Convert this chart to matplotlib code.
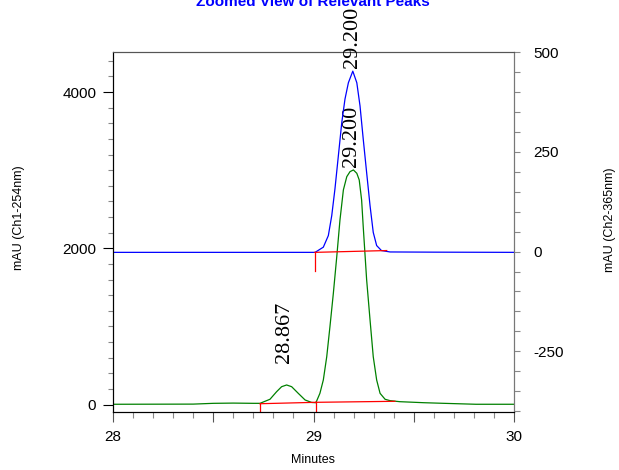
import matplotlib
matplotlib.use("Agg")
import matplotlib.pyplot as plt
from matplotlib.ticker import MultipleLocator

# Ch1 (254nm) trace, green, left axis
ch1_time = [28.0, 28.4, 28.5, 28.6, 28.7, 28.733, 28.783, 28.816, 28.841, 28.866,
            28.891, 28.924, 28.958, 28.991, 29.012, 29.032, 29.049, 29.066, 29.082,
            29.099, 29.116, 29.132, 29.149, 29.166, 29.182, 29.199, 29.216, 29.228,
            29.240, 29.248, 29.265, 29.282, 29.298, 29.315, 29.332, 29.357, 29.382,
            29.431, 29.55, 29.65, 29.81, 30.0]
ch1_mau = [3, 5, 15, 18, 15, 15, 67, 164, 228, 250,
           228, 143, 58, 26, 23, 143, 314, 612, 996,
           1424, 1892, 2362, 2747, 2917, 2981, 3003, 2960, 2875,
           2618, 2277, 1598, 1082, 612, 314, 143, 67, 49,
           36, 23, 15, 3, 3]

# Ch2 (365nm) trace, blue, right axis
ch2_time = [28.0, 28.5, 29.008, 29.049, 29.074, 29.091, 29.107, 29.124, 29.141, 29.157,
            29.174, 29.196, 29.216, 29.232, 29.248, 29.265, 29.282, 29.298, 29.315,
            29.339, 29.382, 29.6, 30.0]
ch2_mau = [-2, -2, -2, 11, 40, 90, 157, 240, 323, 382,
           423, 452, 423, 365, 282, 198, 115, 48, 15,
           2.5, -1, -1.5, -2]

# integration baselines (start, end) for each peak
ch1_base_time = [[28.733, 29.012], [29.012, 29.406]]
ch1_base_mau = [[10, 28], [28, 41]]
ch2_base_time = [29.007, 29.365]
ch2_base_mau = [-2, 2.5]

# peak labels
ch1_peaks = [28.867, 29.200]
ch1_peak_mau = [250, 3003]
ch2_peaks = [29.200]
ch2_peak_mau = [452]

plt.rcParams['font.family'] = ['Liberation Sans', 'DejaVu Sans']
plt.rcParams['axes.unicode_minus'] = False

fig = plt.figure(figsize=(6.19, 4.70), dpi=100)
ax1 = fig.add_axes([113/619, 58/470, 401/619, 360/470])
ax2 = ax1.twinx()

ax1.plot(ch1_time, ch1_mau, color='#008000', lw=0.9)
ax2.plot(ch2_time, ch2_mau, color='#0000ff', lw=0.9)

y1_min, y1_max = -96, 4513
y2_min, y2_max = -402, 498

# red baselines with drop lines
for bt, bm in zip(ch1_base_time, ch1_base_mau):
	ax1.plot(bt, bm, color='#ff0000', lw=0.9)
	ax1.plot([bt[0], bt[0]], [y1_min, bm[0]], color='#ff0000', lw=0.9)
ax2.plot(ch2_base_time, ch2_base_mau, color='#ff0000', lw=0.9)
ax2.plot([ch2_base_time[0], ch2_base_time[0]], [-48, ch2_base_mau[0]], color='#ff0000', lw=0.9)

serif = ['Liberation Serif', 'DejaVu Serif']
for t, m in zip(ch1_peaks, ch1_peak_mau):
	off = 22 if m < 1000 else 3
	ax1.annotate("%.3f" % t, (t, m), xytext=(-2.5, off), textcoords='offset pixels',
		rotation=90, ha='center', va='bottom', fontsize=16, family=serif)
for t, m in zip(ch2_peaks, ch2_peak_mau):
	ax2.annotate("%.3f" % t, (t, m), xytext=(-1.5, 3), textcoords='offset pixels',
		rotation=90, ha='center', va='bottom', fontsize=16, family=serif, annotation_clip=False)

ax1.set_xlim(28, 30)
ax1.set_ylim(y1_min, y1_max)
ax2.set_ylim(y2_min, y2_max)

ax1.set_xticks([28, 28.5, 29, 29.5, 30], ['28', '', '29', '', '30'])
ax1.xaxis.set_minor_locator(MultipleLocator(0.1))
ax1.set_yticks([0, 2000, 4000])
ax1.yaxis.set_minor_locator(MultipleLocator(200))
ax2.set_yticks([-250, 0, 250, 500])
ax2.yaxis.set_minor_locator(MultipleLocator(50))

ax1.tick_params(axis='x', which='major', length=7, width=0.8, labelsize=11, pad=6, color='#555555')
ax1.tick_params(axis='x', which='minor', length=4, width=0.8, color='#888888')
ax1.tick_params(axis='y', which='major', length=7, width=0.8, labelsize=11, pad=5)
ax1.tick_params(axis='y', which='minor', length=3.5, width=0.8, color='#888888')
ax2.tick_params(axis='y', which='major', length=4, width=0.8, labelsize=11, pad=10, color='#888888')
ax2.tick_params(axis='y', which='minor', length=4, width=0.8, color='#888888')

for ax in (ax1, ax2):
	ax.spines['right'].set_color('#777777')
	ax.spines['top'].set_color('#555555')

fig.text(19/619, 1 - 218/470, "mAU (Ch1-254nm)", rotation=90, ha='center', va='center', fontsize=9)
fig.text(610/619, 1 - 220/470, "mAU (Ch2-365nm)", rotation=90, ha='center', va='center', fontsize=9)
fig.text(313/619, 1 - 460/470, "Minutes", ha='center', va='center', fontsize=9)
fig.text(313/619, 1 - 2/470, "Zoomed View of Relevant Peaks", ha='center', va='center',
	fontsize=11, fontweight='bold', color='#0000ff')

fig.savefig("out.png", dpi=100)
